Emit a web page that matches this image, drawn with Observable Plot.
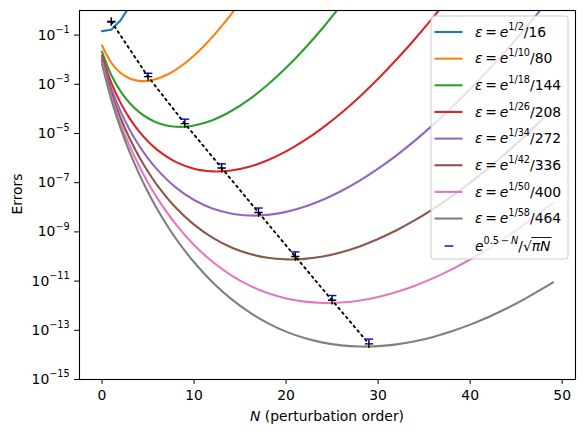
<!DOCTYPE html>
<html>
<head>
<meta charset="utf-8">
<script src="https://cdn.jsdelivr.net/npm/d3@7"></script>
<script src="https://cdn.jsdelivr.net/npm/@observablehq/plot@0.6"></script>
<style>
  body { margin: 0; background: #fff; }
  #chart { position: relative; width: 584px; height: 436px; }
  svg text { font-family: "DejaVu Sans", sans-serif; }
</style>
</head>
<body>
<div id="chart"></div>
<script>
// Truncation error of the perturbation series vs. order N, one curve per coupling ε
const seriesColors = ["#1f77b4", "#ff7f0e", "#2ca02c", "#d62728", "#9467bd", "#8c564b", "#e377c2", "#7f7f7f"];
const epsExponent = ["1/2", "1/10", "1/18", "1/26", "1/34", "1/42", "1/50", "1/58"];
const epsDenominator = ["16", "80", "144", "208", "272", "336", "400", "464"];

// errors stored as log10 values
const orderN_a = [0, 1, 2, 3, 4];
const logErr_a = [-0.838, -0.784, -0.405, 0.177, 0.904];

const orderN_b = [0, 1, 2, 3, 4, 5, 6, 7, 8, 9, 10, 11, 12, 13, 14, 15];
const logErr_b = [-1.424, -2.124, -2.532, -2.761, -2.862, -2.861, -2.778, -2.624, -2.410, -2.143, -1.828, -1.469, -1.071, -0.637, -0.170, 0.329];

const orderN_c = [0, 1, 2, 3, 4, 5, 6, 7, 8, 9, 10, 12, 14, 16, 18, 20, 22, 24, 26];
const logErr_c = [-1.680, -2.619, -3.276, -3.760, -4.119, -4.379, -4.559, -4.671, -4.723, -4.723, -4.675, -4.458, -4.096, -3.612, -3.019, -2.330, -1.555, -0.700, 0.228];

const orderN_d = [0, 1, 2, 3, 4, 5, 6, 8, 10, 12, 13, 14, 16, 18, 20, 22, 24, 26, 28, 30, 32, 34, 36, 37];
const logErr_d = [-1.840, -2.932, -3.745, -4.386, -4.904, -5.324, -5.665, -6.152, -6.429, -6.539, -6.538, -6.506, -6.350, -6.088, -5.729, -5.284, -4.760, -4.165, -3.502, -2.778, -1.995, -1.158, -0.271, 0.192];

const orderN_e = [0, 1, 2, 3, 4, 5, 6, 8, 10, 12, 14, 16, 17, 18, 20, 22, 24, 26, 28, 30, 32, 34, 36, 38, 40, 42, 44, 46, 48];
const logErr_e = [-1.957, -3.161, -4.088, -4.844, -5.476, -6.013, -6.470, -7.191, -7.704, -8.048, -8.252, -8.333, -8.333, -8.308, -8.187, -7.981, -7.696, -7.338, -6.915, -6.429, -5.886, -5.289, -4.640, -3.944, -3.201, -2.415, -1.588, -0.722, 0.183];

const orderN_f = [0, 1, 2, 3, 4, 5, 6, 8, 10, 12, 14, 16, 18, 20, 21, 22, 24, 26, 28, 30, 32, 34, 36, 38, 40, 42, 44, 46, 48, 49];
const logErr_f = [-2.048, -3.343, -4.360, -5.206, -5.929, -6.556, -7.105, -8.009, -8.705, -9.235, -9.623, -9.890, -10.051, -10.116, -10.116, -10.095, -9.997, -9.826, -9.589, -9.291, -8.935, -8.525, -8.063, -7.554, -6.999, -6.400, -5.760, -5.081, -4.364, -3.992];

const orderN_g = [0, 1, 2, 3, 4, 5, 6, 8, 10, 12, 14, 16, 18, 20, 22, 24, 25, 26, 28, 30, 32, 34, 36, 38, 40, 42, 44, 46, 48, 49];
const logErr_g = [-2.124, -3.492, -4.584, -5.505, -6.303, -7.005, -7.629, -8.684, -9.532, -10.213, -10.753, -11.173, -11.486, -11.704, -11.836, -11.891, -11.890, -11.873, -11.789, -11.643, -11.442, -11.186, -10.878, -10.522, -10.121, -9.676, -9.190, -8.665, -8.102, -7.807];

const orderN_h = [0, 1, 2, 3, 4, 5, 6, 8, 10, 12, 14, 16, 18, 20, 22, 24, 26, 28, 29, 30, 32, 34, 36, 38, 40, 42, 44, 46, 48, 49];
const logErr_h = [-2.189, -3.620, -4.775, -5.760, -6.622, -7.388, -8.076, -9.259, -10.235, -11.045, -11.715, -12.264, -12.706, -13.054, -13.316, -13.501, -13.613, -13.660, -13.660, -13.645, -13.572, -13.445, -13.268, -13.042, -12.770, -12.459, -12.104, -11.710, -11.278, -11.048];

// optimal truncation points and the estimate e^(0.5-N)/sqrt(pi N)
const optimalN = [1, 5, 9, 13, 17, 21, 25, 29];
const optimalLogErr = [-0.45, -2.69, -4.60, -6.40, -8.21, -10.00, -11.78, -13.55];
const estimateErr = [0.3422, 2.803e-3, 3.827e-5, 5.832e-7, 9.340e-9, 1.539e-10, 2.584e-12, 4.394e-14];

const yTicks = [1e-15, 1e-13, 1e-11, 1e-9, 1e-7, 1e-5, 1e-3, 1e-1];
const xTicks = [0, 10, 20, 30, 40, 50];

const curves = [
  [orderN_a, logErr_a], [orderN_b, logErr_b], [orderN_c, logErr_c], [orderN_d, logErr_d],
  [orderN_e, logErr_e], [orderN_f, logErr_f], [orderN_g, logErr_g], [orderN_h, logErr_h]
];
const rows = curves.flatMap(([ns, ls], i) => ns.map((n, j) => ({N: n, err: 10 ** ls[j], series: i, color: seriesColors[i]})));
const optRows = optimalN.map((n, i) => ({N: n, err: 10 ** optimalLogErr[i]}));
const estRows = optimalN.map((n, i) => ({N: n, err: estimateErr[i]}));

const hbar = { draw(ctx, size) { const r = Math.sqrt(size / Math.PI); ctx.moveTo(-r, 0); ctx.lineTo(r, 0); } };
const plus = { draw(ctx, size) { const r = Math.sqrt(size / Math.PI); ctx.moveTo(-r, 0); ctx.lineTo(r, 0); ctx.moveTo(0, -r); ctx.lineTo(0, r); } };

const svg = Plot.plot({
  width: 584,
  height: 436,
  marginLeft: 79,
  marginRight: 9,
  marginTop: 10,
  marginBottom: 57,
  style: {fontSize: "13.9px", fontFamily: "DejaVu Sans, sans-serif", background: "#fff", color: "#000"},
  x: {domain: [-2.45, 51.45]},
  y: {type: "log", domain: [1e-15, 1]},
  color: {type: "identity"},
  marks: [
    Plot.line(rows.filter(d => d.series === 0), {x: "N", y: "err", stroke: "color", strokeWidth: 2.1, clip: true}),
    Plot.line(rows.filter(d => d.series > 0), {x: "N", y: "err", z: "series", stroke: "color", strokeWidth: 2.1, curve: "catmull-rom", clip: true}),
    Plot.line(optRows, {x: "N", y: "err", stroke: "#000", strokeWidth: 1.9, strokeDasharray: "1.9,4"}),
    Plot.dot(estRows, {x: "N", y: "err", symbol: hbar, r: 4.3, stroke: "#0000ff", strokeWidth: 1.4, fill: "none"}),
    Plot.dot(optRows, {x: "N", y: "err", symbol: plus, r: 4.2, stroke: "#000", strokeWidth: 1.4, fill: "none"}),
    Plot.frame({stroke: "#000", strokeWidth: 1.1}),
    Plot.axisX({ticks: xTicks, tickSize: 4.9, tickPadding: 5.5, label: null}),
    Plot.axisY({ticks: yTicks, tickFormat: d => "10^" + Math.round(Math.log10(d)), tickSize: 4.9, tickPadding: 4.9, label: null})
  ]
});
document.getElementById("chart").appendChild(svg);

const root = d3.select(svg);

// superscript exponents on the y tick labels
root.selectAll('[aria-label="y-axis tick label"] text').each(function () {
  const s = this.textContent;
  if (!s.includes("^")) return;
  const [base, exp] = s.split("^");
  const t = d3.select(this);
  t.text(null);
  t.append("tspan").text(base);
  t.append("tspan").attr("font-size", "9.7px").attr("dy", -6.5).text(exp.replace("-", "\u2212"));
});

// axis titles
root.append("text")
  .attr("x", 327).attr("y", 421).attr("text-anchor", "middle").attr("font-size", "13.9px")
  .call(t => {
    t.append("tspan").attr("font-style", "italic").text("N");
    t.append("tspan").text(" (perturbation order)");
  });
root.append("text")
  .attr("transform", "translate(21.5,194) rotate(-90)").attr("text-anchor", "middle").attr("font-size", "13.9px")
  .text("Errors");

// legend
const lg = root.append("g").attr("text-anchor", "start");
lg.append("rect").attr("x", 431).attr("y", 16).attr("width", 137).attr("height", 243).attr("rx", 3)
  .attr("fill", "#fff").attr("fill-opacity", 0.8).attr("stroke", "#cccccc").attr("stroke-width", 1);
const rowY = i => 32 + 26.65 * i;
seriesColors.forEach((c, i) => {
  const y = rowY(i);
  lg.append("line").attr("x1", 434.5).attr("x2", 462.5).attr("y1", y).attr("y2", y).attr("stroke", c).attr("stroke-width", 2.1);
  const t = lg.append("text").attr("text-anchor", "start").attr("x", 475).attr("y", y + 4.8).attr("font-size", "13.9px");
  t.append("tspan").attr("font-style", "italic").text("\u03b5");
  t.append("tspan").text("\u2009=\u2009");
  t.append("tspan").attr("font-style", "italic").text("e");
  t.append("tspan").attr("font-size", "9.7px").attr("dy", -7).text(epsExponent[i]);
  t.append("tspan").attr("dy", 7).text("/" + epsDenominator[i]);
});
{
  const y = 246;
  lg.append("line").attr("x1", 444.5).attr("x2", 453.5).attr("y1", y).attr("y2", y).attr("stroke", "#0000ff").attr("stroke-width", 1.4);
  const t = lg.append("text").attr("text-anchor", "start").attr("x", 475).attr("y", y + 5.2).attr("font-size", "13.9px");
  t.append("tspan").attr("font-style", "italic").text("e");
  const sup = t.append("tspan").attr("font-size", "9.7px").attr("dy", -7);
  sup.append("tspan").text("0.5\u2009\u2212\u2009");
  sup.append("tspan").attr("font-style", "italic").text("N");
  t.append("tspan").attr("font-size", "13.9px").attr("dy", 7).text("/\u221a");
  const w = t.node().getComputedTextLength();
  const t2 = lg.append("text").attr("text-anchor", "start").attr("x", 475 + w).attr("y", y + 5.2).attr("font-size", "13.9px").attr("font-style", "italic").text("\u03c0N");
  const w2 = t2.node().getComputedTextLength();
  lg.append("line").attr("x1", 475 + w - 0.5).attr("x2", 475 + w + w2 + 1).attr("y1", y - 8.5).attr("y2", y - 8.5)
    .attr("stroke", "#000").attr("stroke-width", 0.9);
}
</script>
</body>
</html>
